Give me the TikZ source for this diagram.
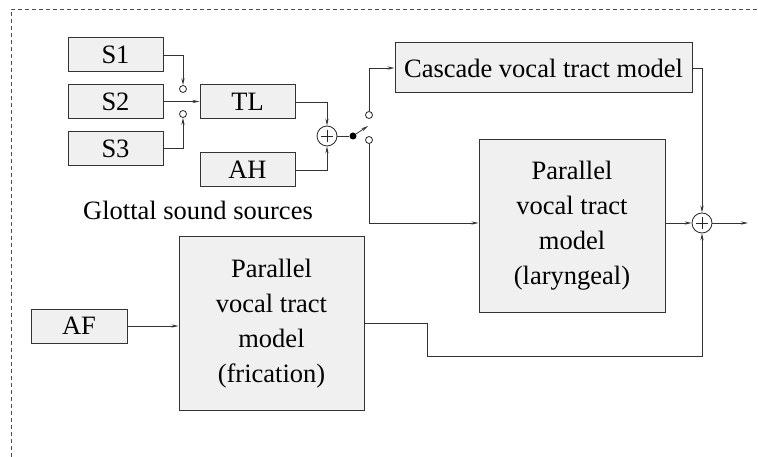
\documentclass[tikz,border=0pt]{standalone}
\usepackage{fontspec}
\setmainfont{Liberation Serif}
\usetikzlibrary{arrows.meta,calc}
\begin{document}
\begin{tikzpicture}[x=1pt,y=-1pt,
  font=\fontsize{26.5}{35}\selectfont,
  line/.style={draw=black!80,line width=0.8pt},
  arr/.style={line,-{Stealth[length=7pt,width=3.2pt]}},
  blk/.style={draw=black!80,line width=1pt,fill=black!6,inner sep=0pt,align=center},
  sumnode/.style={circle,draw=black!85,line width=0.8pt,minimum size=20pt,inner sep=0pt,
    path picture={\draw[line width=0.7pt] ($(path picture bounding box.center)+(-6pt,0)$) -- ($(path picture bounding box.center)+(6pt,0)$)
                   ($(path picture bounding box.center)+(0,-6pt)$) -- ($(path picture bounding box.center)+(0,6pt)$);}},
  contact/.style={circle,draw=black!85,line width=0.8pt,fill=white,minimum size=7pt,inner sep=0pt},
  pivot/.style={circle,fill=black,minimum size=7pt,inner sep=0pt}]
\useasboundingbox (0,0) rectangle (758,457);
% frame
\draw[black!70,line width=0.8pt,dash pattern=on 4pt off 3pt] (11,457) -- (11,9) -- (758,9);

% glottal sources
\node[blk,minimum width=95pt,minimum height=34pt] (s1) at (115.5,55) {S1};
\node[blk,minimum width=95pt,minimum height=34pt] (s2) at (115.5,101.5) {S2};
\node[blk,minimum width=95pt,minimum height=34pt] (s3) at (115.5,148.5) {S3};
\node[blk,minimum width=95pt,minimum height=34pt] (tl) at (247.5,102) {TL};
\node[blk,minimum width=95pt,minimum height=34pt] (ah) at (247.5,170) {AH};
\node (glabel) at (198,210) {Glottal sound sources};
\node[contact] (k1) at (183,89) {};
\node[contact] (k3) at (183,114) {};
\node[sumnode] (sum1) at (327,136) {};
\node[pivot] (piv) at (353,136) {};
\node[contact] (up) at (369,115) {};
\node[contact] (dn) at (369,140) {};
\coordinate (blade) at (368,126);

% vocal tract models
\node[blk,minimum width=297pt,minimum height=50pt] (casc) at (543.5,68) {Cascade vocal tract model};
\node[blk,minimum width=186pt,minimum height=172pt] (lar) at (572,226) {Parallel\\vocal tract\\model\\(laryngeal)};
\node[sumnode] (sum2) at (702,223) {};
\coordinate (out) at (748,223);
\node[blk,minimum width=185pt,minimum height=173pt] (fric) at (271.5,323.5) {Parallel\\vocal tract\\model\\(frication)};
\node[blk,minimum width=96pt,minimum height=34pt] (af) at (79,326) {AF};

% connections
\draw[arr] (s1.east) -- (s1.east -| k1) -- (k1.north);
\draw[arr] (s3.east) -- (s3.east -| k3) -- (k3.south);
\draw[arr] (s2.east) -- (s2.east -| tl.west);
\draw[arr] (tl.east) -- (tl.east -| sum1) -- (sum1.north);
\draw[arr] (ah.east) -- (ah.east -| sum1) -- (sum1.south);
\draw[line] (sum1.east) -- (piv);
\draw[arr] (piv) -- (blade);
\draw[arr] (up.north) -- (up |- casc.west) -- (casc.west);
\draw[arr] (dn.south) -- (dn |- sum2) -- (lar.west |- sum2);
\draw[arr] (casc.east) -- (casc.east -| sum2) -- (sum2.north);
\draw[arr] (lar.east |- sum2) -- (sum2.west);
\draw[arr] (sum2.east) -- (out);
\draw[arr] (af.east) -- (af.east -| fric.west);
\draw[arr] (fric.east) -- (427,323.5) -- (427,356) -- (702,356) -- (sum2.south);
\end{tikzpicture}
\end{document}
